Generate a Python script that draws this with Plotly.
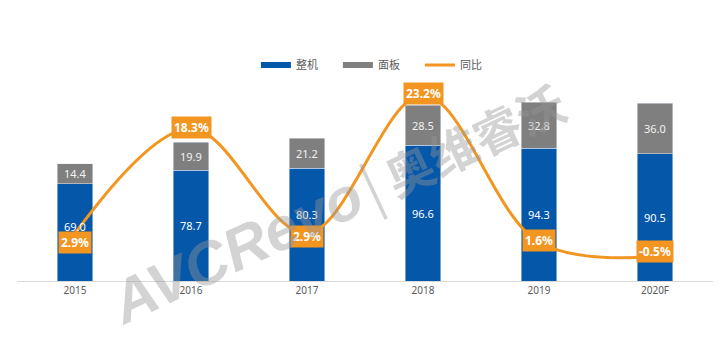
import plotly.graph_objects as go

years = ["2015", "2016", "2017", "2018", "2019", "2020F"]
whole = [69.0, 78.7, 80.3, 96.6, 94.3, 90.5]      # 整机
panel = [14.4, 19.9, 21.2, 28.5, 32.8, 36.0]      # 面板
yoy = [2.9, 18.3, 2.9, 23.2, 1.6, -0.5]           # 同比 (%)

# label styling: vertical nudges (px)
yoy_label_dy = [-9, 1, -3, 2, 2, 5]
whole_label_dy = [6, 0, 10, 0, 0, 0]

xpos = list(range(len(years)))

BLUE = "#0557AA"
GRAY = "#7F7F7F"
ORANGE = "#F39521"
FONT = "Noto Sans, Noto Sans CJK SC, sans-serif"

fig = go.Figure()

fig.add_trace(go.Bar(
    x=xpos, y=whole, name="整机", marker_color=BLUE, showlegend=False, width=0.31,
))
fig.add_trace(go.Bar(
    x=xpos, y=panel, name="面板", marker_color=GRAY, showlegend=False, width=0.31,
))
fig.add_trace(go.Scatter(
    x=xpos, y=yoy, name="同比", yaxis="y2", mode="lines",
    line=dict(color=ORANGE, width=3, shape="spline", smoothing=1.0),
    showlegend=False,
))

# legend entries
for nm, col in [("整机", BLUE), ("面板", GRAY), ("同比", ORANGE)]:
    fig.add_trace(go.Scatter(
        x=[0], y=[None], name=nm, mode="lines",
        line=dict(color=col, width=6 if nm != "同比" else 3),
    ))

annotations = []
# bar value labels (centred in each segment)
for x, w, p, dy in zip(xpos, whole, panel, whole_label_dy):
    annotations.append(dict(
        x=x, y=w / 2, xref="x", yref="y", text=f"{w:.1f}", showarrow=False,
        yshift=dy, font=dict(color="white", size=11, family=FONT),
    ))
    annotations.append(dict(
        x=x, y=w + p / 2, xref="x", yref="y", text=f"{p:.1f}", showarrow=False,
        font=dict(color="#F2F2F2", size=11, family=FONT),
    ))

for x, v, dy in zip(xpos, yoy, yoy_label_dy):
    annotations.append(dict(
        x=x, y=v, xref="x", yref="y2", text=f"<b>{v:.1f}%</b>",
        showarrow=False, bgcolor=ORANGE, borderpad=2, yshift=dy,
        font=dict(color="white", size=12, family=FONT),
    ))

# watermark
annotations.append(dict(
    xref="paper", yref="paper", x=(338 - 17) / 696, y=(281 - 204) / 211,
    text=('<b><i><span style="font-size:60px">AVCRevo</span></i></b>'
          '<span style="font-size:50px">│</span>'
          '<b><span style="font-size:48px">奥维睿沃</span></b>'),
    showarrow=False, textangle=-25,
    font=dict(color="rgba(150,150,150,0.42)", size=56,
              family="Liberation Sans, Noto Sans CJK SC"),
))

fig.update_layout(
    width=725, height=359,
    margin=dict(l=9, r=20, t=62, b=86, autoexpand=False),
    paper_bgcolor="white", plot_bgcolor="white",
    barmode="stack",
    font=dict(family=FONT, color="#595959", size=11),
    xaxis=dict(
        type="linear", range=[-0.5, len(years) - 0.5],
        tickmode="array", tickvals=xpos, ticktext=years,
        showline=True, linecolor="#D9D9D9", linewidth=1,
        showgrid=False, zeroline=False, ticks="",
        tickfont=dict(size=10, color="#595959"),
    ),
    yaxis=dict(range=[0, 150], visible=False, showgrid=False, zeroline=False),
    yaxis2=dict(range=[-4.08, 26.88], overlaying="y", visible=False,
                showgrid=False, zeroline=False),
    legend=dict(
        orientation="h", x=0.52, xanchor="center", y=1.024, yanchor="middle",
        traceorder="normal", itemwidth=30,
        font=dict(size=11, color="#595959"), entrywidth=37, entrywidthmode="pixels",
        bgcolor="rgba(0,0,0,0)",
    ),
    annotations=annotations,
)

fig.write_html("out.html")
